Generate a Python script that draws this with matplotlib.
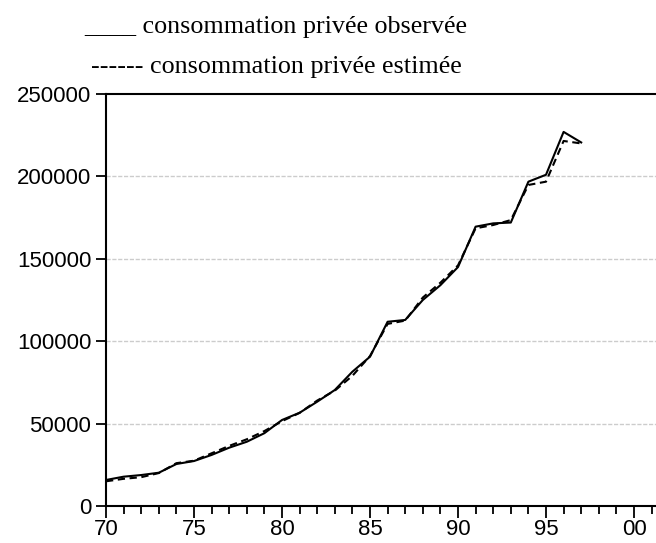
import numpy as np
import matplotlib
matplotlib.use('Agg')
import matplotlib.pyplot as plt
from matplotlib.ticker import MultipleLocator, FuncFormatter

# donnees (1970-1997)
annees = np.arange(1970, 1998)
observee = [15800, 17800, 18800, 20200, 25500, 27300, 31000, 35400, 39000, 44200,
            52200, 56600, 63300, 70400, 81500, 90600, 111800, 112900, 125000, 134000,
            145000, 169500, 171500, 172000, 196800, 201000, 227000, 220600]
estimee = [15000, 16500, 17500, 20000, 26000, 27500, 32000, 36500, 40500, 45500,
           51500, 56500, 64000, 70000, 79000, 91000, 110500, 112500, 126500, 135500,
           146000, 168500, 170500, 173500, 194800, 196800, 221500, 220000]
y_ticks = [0, 50000, 100000, 150000, 200000, 250000]

fig = plt.figure(figsize=(6.56, 5.43), dpi=100)
ax = fig.add_axes([0.1616, 0.0681, 0.8384, 0.7588])

ax.plot(annees, observee, color='black', lw=1.5, ls='-')
ax.plot(annees, estimee, color='black', lw=1.5, ls=(0, (3.5, 2.2)))

ax.set_xlim(1970, 2001.25)
ax.set_ylim(0, 250000)
ax.set_yticks(y_ticks)
ax.xaxis.set_major_locator(MultipleLocator(5))
ax.xaxis.set_minor_locator(MultipleLocator(1))
ax.xaxis.set_major_formatter(FuncFormatter(lambda v, p: '%02d' % (int(round(v)) % 100)))

for yv in y_ticks[1:-1]:
    ax.axhline(yv, color='#cccccc', lw=1.0, ls=(0, (3, 1.2)), zorder=0)

ax.spines['right'].set_visible(False)
for s in ['left', 'bottom', 'top']:
    ax.spines[s].set_linewidth(1.5)

ax.tick_params(axis='y', which='major', direction='out', length=7.5, width=1.3,
               labelsize=16, labelfontfamily='Liberation Sans', pad=3)
ax.tick_params(axis='x', which='major', direction='out', length=8.5, width=1.3,
               labelsize=16, labelfontfamily='Liberation Sans', pad=1)
ax.tick_params(axis='x', which='minor', direction='out', length=5.5, width=1.3)

fig.text(0.421, 0.950, '____ consommation privée observée', ha='center', va='center',
         fontsize=18.8, family='Liberation Serif')
fig.text(0.421, 0.877, '------ consommation privée estimée', ha='center', va='center',
         fontsize=18.8, family='Liberation Serif')

fig.savefig('out.png', dpi=100)
